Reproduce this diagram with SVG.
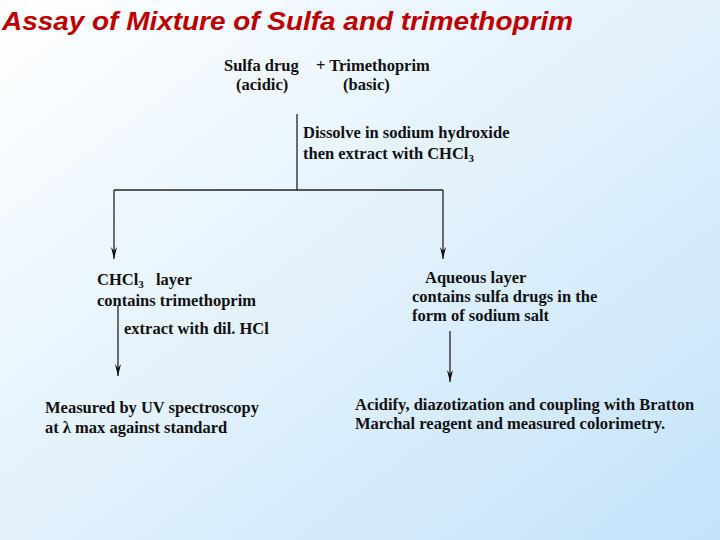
<svg xmlns="http://www.w3.org/2000/svg" width="720" height="540" viewBox="0 0 720 540">
<defs>
<linearGradient id="bg" x1="0" y1="0" x2="1" y2="1">
<stop offset="0" stop-color="#ffffff"/>
<stop offset="0.5" stop-color="#e2f1fc"/>
<stop offset="1" stop-color="#c4e3fb"/>
</linearGradient>
<marker id="arr" viewBox="0 0 12 6" refX="12" refY="3" markerWidth="12" markerHeight="6" markerUnits="userSpaceOnUse" orient="auto">
<path d="M0,0 L4,3 L0,6 L12,3 Z" fill="#111"/>
</marker>
<style>
.t{font-family:"Liberation Serif","Times New Roman",serif;font-weight:bold;font-size:16.5px;fill:#111}
.ln{stroke:#222;stroke-width:1.3;fill:none}
.ar{stroke:#222;stroke-width:1.3;fill:none;marker-end:url(#arr)}
</style>
</defs>
<rect width="720" height="540" fill="url(#bg)"/>
<text x="2" y="30" textLength="571" lengthAdjust="spacingAndGlyphs" style="font-family:'Liberation Sans',Arial,sans-serif;font-weight:bold;font-style:italic;font-size:25px;fill:#c00000">Assay of Mixture of Sulfa and trimethoprim</text>
<g id="start">
<text class="t" x="224" y="71">Sulfa drug</text>
<text class="t" x="316" y="71">+ Trimethoprim</text>
<text class="t" x="236" y="90">(acidic)</text>
<text class="t" x="343" y="90">(basic)</text>
</g>
<g id="step1">
<text class="t" x="303" y="138">Dissolve in sodium hydroxide</text>
<text class="t" x="303" y="159">then extract with CHCl<tspan font-size="11" dy="3">3</tspan></text>
</g>
<g id="chcl3">
<text class="t" x="97" y="285">CHCl<tspan font-size="11" dy="3">3</tspan><tspan x="156" dy="-3">layer</tspan></text>
<text class="t" x="97" y="306">contains trimethoprim</text>
</g>
<g id="hcl">
<text class="t" x="124" y="334">extract with dil. HCl</text>
</g>
<g id="aqueous">
<text class="t" x="425" y="283">Aqueous layer</text>
<text class="t" x="412" y="302">contains sulfa drugs in the</text>
<text class="t" x="412" y="321">form of sodium salt</text>
</g>
<g id="uv">
<text class="t" x="45" y="413">Measured by UV spectroscopy</text>
<text class="t" x="45" y="433">at λ max against standard</text>
</g>
<g id="color">
<text class="t" x="355" y="410">Acidify, diazotization and coupling with Bratton</text>
<text class="t" x="355" y="429">Marchal reagent and measured colorimetry.</text>
</g>
<g id="connectors">
<line class="ln" x1="297" y1="114" x2="297" y2="190"/>
<line class="ln" x1="114" y1="190" x2="443" y2="190"/>
<line class="ar" x1="114" y1="190" x2="114" y2="259"/>
<line class="ar" x1="443" y1="190" x2="443" y2="259"/>
<line class="ar" x1="118" y1="305" x2="118" y2="376"/>
<line class="ar" x1="450" y1="331" x2="450" y2="382"/>
</g>
</svg>
